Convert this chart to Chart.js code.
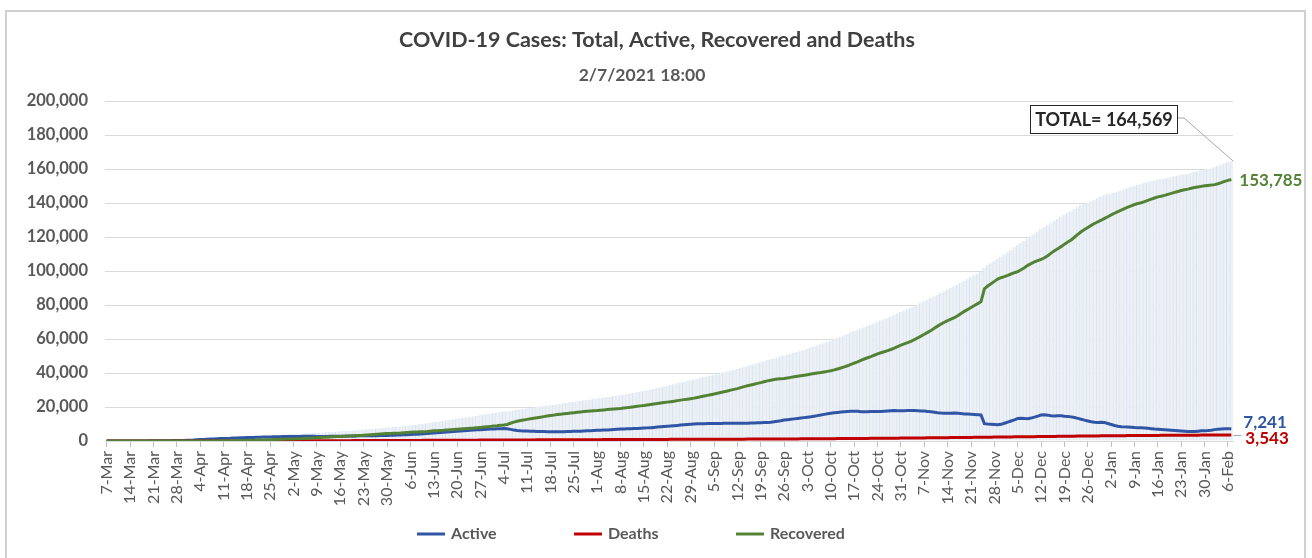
<!DOCTYPE html>
<html>
<head>
<meta charset="utf-8">
<script src="https://cdn.jsdelivr.net/npm/chart.js@4.4.0/dist/chart.umd.min.js"></script>
<style>
  html, body { margin: 0; padding: 0; background: #fff; }
  #wrap { width: 1312px; height: 558px; }
</style>
</head>
<body>
<div id="wrap"><canvas id="chart"></canvas></div>
<script>
/* COVID-19 cases, daily from 7-Mar-2020 to 7-Feb-2021 */

const titleText = 'COVID-19 Cases: Total, Active, Recovered and Deaths';
const subtitleText = '2/7/2021 18:00';

// one tick label per week (every 7th day)
const weekTicks = ['7-Mar','14-Mar','21-Mar','28-Mar','4-Apr','11-Apr','18-Apr','25-Apr',
  '2-May','9-May','16-May','23-May','30-May','6-Jun','13-Jun','20-Jun','27-Jun',
  '4-Jul','11-Jul','18-Jul','25-Jul','1-Aug','8-Aug','15-Aug','22-Aug','29-Aug',
  '5-Sep','12-Sep','19-Sep','26-Sep','3-Oct','10-Oct','17-Oct','24-Oct','31-Oct',
  '7-Nov','14-Nov','21-Nov','28-Nov','5-Dec','12-Dec','19-Dec','26-Dec',
  '2-Jan','9-Jan','16-Jan','23-Jan','30-Jan','6-Feb'];

const total = [1,1,3,3,6,8,12,
  23,29,30,36,49,66,80,
  94,109,125,149,177,199,231,
  263,298,353,423,505,591,752,
  864,965,1056,1174,1289,1438,1560,
  1662,1712,1791,1934,2049,2154,2312,
  2472,2548,2614,2778,2926,3056,3147,
  3304,3408,3481,3638,3771,3897,3980,
  4052,4121,4248,4363,4476,4605,4728,
  4867,4927,5000,5153,5297,5406,5553,
  5680,5745,5934,6060,6138,6340,6553,
  6704,6833,7012,7182,7305,7537,7725,
  7896,8098,8251,8360,8548,8795,9018,
  9247,9510,9700,9938,10153,10390,10726,
  11078,11331,11595,11879,12254,12545,12826,
  13106,13406,13712,14021,14316,14585,14898,
  15200,15515,15820,16158,16440,16705,17010,
  17300,17560,17840,18115,18406,18660,18921,
  19200,19480,19735,20010,20290,20560,20830,
  21100,21380,21650,21940,22230,22505,22800,
  23100,23350,23640,23920,24210,24470,24730,
  25000,25280,25540,25830,26110,26420,26700,
  27000,27310,27640,27990,28350,28710,29050,
  29400,29820,30250,30690,31140,31590,32040,
  32500,32960,33420,33900,34380,34860,35330,
  35800,36240,36710,37180,37650,38110,38560,
  39000,39450,39930,40410,40910,41420,41910,
  42400,42930,43470,44030,44590,45150,45730,
  46300,46880,47450,48020,48600,49170,49740,
  50300,50850,51420,51990,52550,53130,53720,
  54300,54930,55600,56240,56910,57600,58300,
  59000,59780,60560,61390,62230,63080,63950,
  64800,65500,66230,66960,67740,68520,69330,
  70100,70870,71650,72460,73300,74150,75020,
  75900,76720,77500,78380,79300,80260,81240,
  82200,83150,84050,85070,86100,87120,88120,
  89100,90050,91000,92060,93150,94250,95320,
  96400,97450,98450,99590,101900,103400,104600,
  105900,107100,108200,109500,110900,112400,113900,
  115300,116600,117700,119000,120400,121900,123300,
  124700,125900,126900,128100,129400,130700,132000,
  133200,134300,135300,136500,137700,138800,139600,
  140300,141100,141900,142900,143900,144800,145300,
  145800,146200,146700,147400,148200,148900,149600,
  150200,150700,151100,151700,152300,152800,153300,
  153800,154100,154400,154900,155300,155800,156200,
  156600,156900,157200,157700,158200,158700,159200,
  159700,160000,160400,161000,161800,162600,163400,
  164100,164569];

const active = [1,1,3,3,6,8,12,
  23,29,30,35,48,65,79,
  93,108,124,148,175,196,227,
  258,291,344,412,490,571,727,
  832,922,1004,1108,1202,1337,1436,
  1513,1532,1583,1693,1766,1839,1944,
  2057,2082,2091,2210,2278,2343,2371,
  2423,2473,2473,2565,2618,2662,2667,
  2678,2658,2720,2757,2745,2761,2721,
  2715,2689,2652,2700,2740,2724,2768,
  2811,2784,2873,2895,2849,2934,3021,
  3059,3080,3127,3151,3111,3194,3232,
  3261,3331,3390,3460,3540,3630,3720,
  3810,3930,4040,4170,4290,4420,4560,
  4700,4850,4990,5130,5280,5420,5560,
  5700,5840,5990,6130,6280,6420,6550,
  6680,6800,6910,7020,7110,7180,7240,
  7280,7230,6820,6410,6150,5980,5890,
  5830,5790,5720,5640,5590,5540,5480,
  5450,5460,5420,5460,5510,5560,5620,
  5680,5720,5790,5860,5960,6050,6160,
  6280,6360,6430,6520,6610,6730,6860,
  6990,7050,7140,7230,7320,7400,7490,
  7600,7720,7860,8010,8170,8330,8500,
  8680,8860,9020,9180,9360,9540,9730,
  9900,10010,10080,10130,10190,10230,10270,
  10300,10280,10320,10390,10450,10410,10470,
  10500,10420,10380,10460,10550,10610,10700,
  10800,10840,10920,11080,11310,11580,11890,
  12300,12520,12770,13010,13260,13500,13750,
  14000,14260,14580,14930,15310,15660,15990,
  16300,16570,16780,17010,17220,17380,17460,
  17500,17430,17270,17190,17240,17350,17310,
  17300,17380,17520,17690,17810,17870,17840,
  17800,17860,17920,17990,17940,17850,17710,
  17600,17420,17170,16890,16620,16410,16330,
  16300,16380,16470,16350,16120,15930,15820,
  15700,15620,15480,15340,10200,9980,9850,
  9700,9560,9820,10440,11080,11760,12480,
  13200,13430,13290,13160,13480,14010,14620,
  15300,15470,15210,14880,14760,14820,14910,
  14600,14450,14200,13800,13300,12800,12300,
  11800,11300,11000,10950,11000,10820,10310,
  9700,9120,8640,8420,8310,8190,8050,
  7900,7800,7740,7680,7490,7260,7050,
  6900,6780,6620,6450,6300,6180,6040,
  5900,5750,5640,5580,5620,5780,5960,
  6100,6200,6380,6690,6980,7120,7180,
  7230,7241];

const deaths = [0,0,0,0,0,0,0,
  0,0,0,1,1,1,1,
  1,1,1,1,2,2,2,
  2,3,4,6,8,10,12,
  15,17,19,23,27,29,30,
  30,31,40,46,53,58,62,
  67,70,72,75,80,83,86,
  94,99,102,107,115,125,132,
  145,150,150,156,158,162,166,
  170,177,180,183,187,194,200,
  206,210,212,217,221,226,235,
  243,249,253,262,267,276,282,
  289,296,300,304,312,320,325,
  330,340,347,358,370,380,391,
  400,405,412,420,430,438,444,
  450,458,466,477,490,500,508,
  515,524,530,540,550,562,570,
  580,588,597,606,614,623,632,
  640,648,655,662,670,677,684,
  690,697,704,712,720,727,733,
  740,749,757,766,775,784,792,
  800,808,815,822,829,836,843,
  850,857,864,871,879,886,893,
  900,907,914,921,929,936,943,
  950,957,964,971,979,986,993,
  1000,1006,1012,1018,1024,1030,1035,
  1040,1046,1051,1057,1063,1069,1074,
  1080,1088,1097,1106,1114,1123,1131,
  1140,1149,1157,1166,1174,1183,1191,
  1200,1211,1222,1234,1245,1257,1268,
  1280,1293,1306,1319,1331,1344,1357,
  1370,1386,1402,1417,1433,1449,1465,
  1480,1496,1512,1527,1543,1559,1575,
  1590,1606,1622,1637,1653,1669,1685,
  1700,1719,1737,1756,1774,1793,1811,
  1830,1850,1870,1890,1910,1930,1950,
  1970,1993,2016,2039,2061,2084,2107,
  2130,2154,2178,2203,2227,2251,2276,
  2300,2321,2343,2364,2386,2407,2429,
  2450,2474,2499,2523,2547,2571,2596,
  2620,2644,2669,2693,2717,2741,2766,
  2790,2811,2833,2854,2876,2897,2919,
  2940,2960,2980,3000,3020,3040,3060,
  3080,3097,3114,3131,3149,3166,3183,
  3200,3214,3229,3243,3257,3271,3286,
  3300,3313,3326,3339,3351,3364,3377,
  3390,3401,3413,3424,3436,3447,3459,
  3470,3479,3489,3498,3507,3516,3526,
  3535,3543];

const recovered = [0,0,0,0,0,0,0,
  0,0,0,0,0,0,0,
  0,0,0,0,0,1,2,
  3,4,5,5,7,10,13,
  17,26,33,43,60,72,94,
  119,149,168,195,230,257,306,
  348,396,451,493,568,630,690,
  787,836,906,966,1038,1110,1181,
  1229,1313,1378,1450,1573,1682,1841,
  1982,2061,2168,2270,2370,2488,2585,
  2663,2751,2849,2948,3068,3180,3297,
  3402,3504,3632,3769,3927,4067,4211,
  4346,4471,4561,4596,4696,4845,4973,
  5107,5240,5313,5410,5493,5590,5775,
  5978,6076,6193,6329,6544,6687,6822,
  6956,7108,7256,7414,7546,7665,7840,
  8005,8191,8380,8598,8780,8963,9200,
  9440,9742,10423,11099,11642,12057,12399,
  12730,13042,13360,13708,14030,14343,14666,
  14960,15223,15526,15768,16000,16218,16447,
  16680,16881,17093,17294,17475,17636,17778,
  17920,18112,18295,18488,18671,18854,18997,
  19160,19403,19636,19889,20151,20424,20667,
  20900,21193,21476,21759,22041,22324,22597,
  22870,23143,23436,23749,24041,24334,24607,
  24900,25224,25618,26032,26436,26850,27255,
  27660,28124,28559,28963,29397,29941,30366,
  30820,31422,31993,32464,32926,33417,33899,
  34360,34891,35373,35774,36116,36407,36659,
  36800,37119,37428,37746,38045,38373,38702,
  39020,39377,39714,39991,40269,40596,40953,
  41330,41824,42378,42963,43577,44251,45025,
  45820,46574,47448,48243,48957,49611,50445,
  51210,51884,52508,53133,53837,54611,55495,
  56400,57141,57843,58634,59586,60617,61719,
  62770,63880,65010,66290,67570,68780,69840,
  70830,71677,72514,73671,74969,76236,77393,
  78570,79676,80792,82047,89473,91169,92474,
  93900,95219,96037,96696,97434,98233,98991,
  99650,100696,101911,103317,104373,105319,106084,
  106780,107786,109021,110527,111923,113139,114324,
  115810,117039,118267,119846,121524,123103,124381,
  125560,126840,127920,128950,129880,130940,131930,
  133020,133983,134946,135849,136741,137544,138367,
  139100,139686,140131,140777,141553,142269,142964,
  143600,144007,144454,145111,145649,146256,146783,
  147310,147749,148147,148696,149144,149473,149781,
  150130,150321,150531,150812,151313,151964,152694,
  153335,153785];

const days = total.map((_, i) => i);

const FONT = 'Lato, "Open Sans", sans-serif';
const C_ACTIVE = '#2f55a4', C_DEATHS = '#c00000', C_RECOV = '#548235';

const fmt = v => v.toLocaleString('en-US');

// title, legend, end-of-series labels and the TOTAL callout
const overlay = {
    id: 'overlay',
    beforeDraw(chart) {
        const c = chart.ctx;
        c.save();
        c.strokeStyle = '#d0d0d0';
        c.lineWidth = 2;
        c.strokeRect(6, 11, 1299, 600);
        c.restore();
    },
    afterDraw(chart) {
        const { ctx: c, scales: { x, y } } = chart;
        c.save();
        c.textAlign = 'center';
        c.textBaseline = 'middle';
        c.fillStyle = '#404040';
        c.font = 'bold 21.5px ' + FONT;
        c.fillText(titleText, 657, 40);
        c.fillStyle = '#595959';
        c.font = 'bold 17.5px ' + FONT;
        c.fillText(subtitleText, 642, 75);

        // legend
        const legend = [['Active', C_ACTIVE, 417], ['Deaths', C_DEATHS, 574], ['Recovered', C_RECOV, 736]];
        c.font = 'bold 16px ' + FONT;
        c.textAlign = 'left';
        legend.forEach(([name, col, lx]) => {
            c.strokeStyle = col; c.lineWidth = 3;
            c.beginPath(); c.moveTo(lx, 534); c.lineTo(lx + 28, 534); c.stroke();
            c.fillStyle = '#595959';
            c.fillText(name, lx + 34, 534);
        });

        // end labels
        const last = total.length - 1;
        const xe = x.getPixelForValue(last);
        c.font = 'bold 17px ' + FONT;
        c.fillStyle = C_RECOV;
        c.fillText(fmt(recovered[last]), xe + 8, y.getPixelForValue(recovered[last]) + 1);
        c.fillStyle = C_ACTIVE;
        c.fillText(fmt(active[last]), xe + 12, y.getPixelForValue(active[last]) - 6);
        c.fillStyle = C_DEATHS;
        c.fillText(fmt(deaths[last]), xe + 14, y.getPixelForValue(deaths[last]) + 4);
        c.strokeStyle = '#a6a6a6'; c.lineWidth = 1;
        c.beginPath(); c.moveTo(xe + 2, y.getPixelForValue(deaths[last]) + 0.5); c.lineTo(xe + 10, y.getPixelForValue(deaths[last]) + 0.5); c.stroke();

        // TOTAL callout
        const ty = y.getPixelForValue(total[last]);
        c.beginPath(); c.moveTo(1177, 118); c.lineTo(1184, 118); c.lineTo(xe + 2, ty); c.stroke();
        c.fillStyle = '#fff';
        c.fillRect(1030.5, 105.5, 147, 28);
        c.strokeStyle = '#262626';
        c.strokeRect(1030.5, 105.5, 147, 28);
        c.fillStyle = '#262626';
        c.font = 'bold 18px ' + FONT;
        c.textAlign = 'center';
        c.fillText('TOTAL= ' + fmt(total[last]), 1104, 120);
        c.restore();
    }
};

new Chart(document.getElementById('chart'), {
    data: {
        labels: days,
        datasets: [
            { type: 'line', label: 'Recovered', data: recovered, borderColor: C_RECOV, borderWidth: 3, pointRadius: 0, order: 1 },
            { type: 'line', label: 'Deaths', data: deaths, borderColor: C_DEATHS, borderWidth: 3, pointRadius: 0, order: 2 },
            { type: 'line', label: 'Active', data: active, borderColor: C_ACTIVE, borderWidth: 3, pointRadius: 0, order: 3 },
            { type: 'bar', label: 'Total', data: total, backgroundColor: '#edf1f6', borderColor: '#d7e4f2',
              borderWidth: { left: 1, right: 0, top: 0, bottom: 0 }, borderSkipped: false,
              barPercentage: 1, categoryPercentage: 1, order: 4 }
        ]
    },
    options: {
        responsive: true, maintainAspectRatio: false, animation: false,
        layout: { padding: { top: 101, right: 79, left: 0, bottom: 0 } },
        plugins: { legend: { display: false }, tooltip: { enabled: false } },
        scales: {
            x: {
                offset: true,
                afterFit: s => { s.height = 117; },
                grid: { drawOnChartArea: false, offset: false, tickLength: 6,
                        color: ctx => ctx.index % 7 === 0 ? '#bfbfbf' : 'rgba(0,0,0,0)' },
                border: { color: '#d9d9d9' },
                ticks: {
                    autoSkip: false, minRotation: 90, maxRotation: 90, padding: 4,
                    color: '#595959', font: { family: FONT, size: 16 },
                    callback: (v, i) => i % 7 === 0 ? weekTicks[i / 7] : ''
                }
            },
            y: {
                min: 0, max: 200000,
                afterFit: s => { s.width = 105; },
                grid: { color: '#d9d9d9', drawTicks: false },
                border: { display: false },
                ticks: { stepSize: 20000, padding: 17, color: '#595959',
                         font: { family: FONT, size: 16.5, weight: 'bold' }, callback: v => fmt(v) }
            }
        }
    },
    plugins: [overlay]
});
</script>
</body>
</html>
